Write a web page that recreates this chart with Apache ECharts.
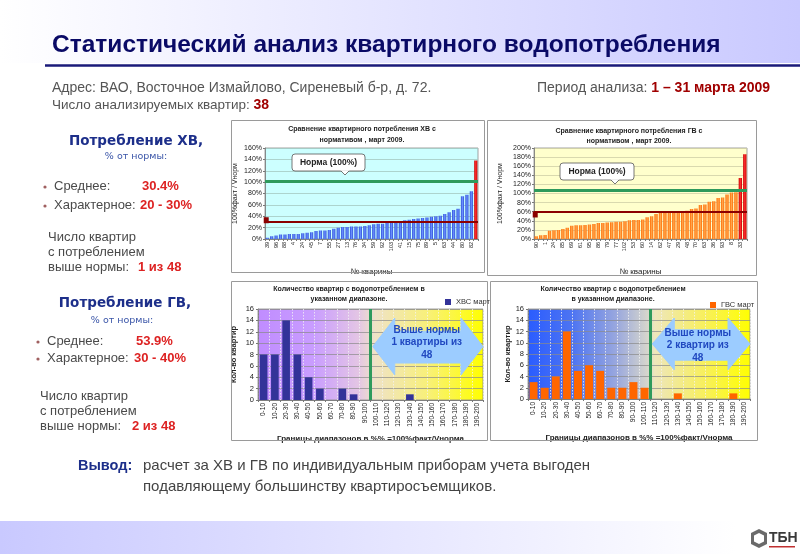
<!DOCTYPE html>
<html>
<head>
<meta charset="utf-8">
<script src="https://cdn.jsdelivr.net/npm/echarts@6.0.0/dist/echarts.min.js"></script>
<style>
html,body{margin:0;padding:0;background:#ffffff;}
#chart{width:800px;height:554px;}
</style>
</head>
<body>
<div id="chart"></div>
<script>
// ---------------- data ----------------
const hvApartments = ['39','21','96','50','88','31','4','12','24','66','45','18','7','99','55','3','27','70','13','58','76','9','34','81',
                      '59','26','92','47','103','11','41','67','15','38','75','2','89','53','5','94','63','30','44','85','80','17','82','61'];
const hvValues = [2,5,6,8,8,9,9,9, 10,11,12,14,15,15,16,18, 20,21,21,22,22,22,23,24,26,27,27,28,28,29,
                  31,33,34,35,36,37,38,39, 40,41,44,47, 51,53, 75,78, 84, 138];
const gvApartments = ['90','12','1','41','24','66','85','5','69','17','61','99','95','27','86','38','79','44','77','58','102','71','53','20',
                      '60','9','14','81','62','35','47','50','29','88','48','11','70','74','63','46','36','59','93','3','8','92','33','15'];
const gvValues = [6,8,9, 18,19, 20,22,25,29, 30,30,31,32,33,35,35,36,37,38,38,39,
                  41,42,42,43,48, 50,55,57,58,58,59, 60,61,62,66,67, 75,76, 82,83, 90,91,98, 102,103, 134, 186];
const rangeLabels = ['0-10','10-20','20-30','30-40','40-50','50-60','60-70','70-80','80-90','90-100',
                     '100-110','110-120','120-130','130-140','140-150','150-160','160-170','170-180','180-190','190-200'];
const hvCounts = [8,8,14,8,4,2,0,2,1,0,0,0,0,1,0,0,0,0,0,0];
const gvCounts = [3,2,4,12,5,6,5,2,2,3,2,0,0,1,0,0,0,0,1,0];
const hvNormLine = 101, hvAvgLine = 31, hvAvgMarker = 33;
const gvNormLine = 108, gvAvgLine = 60, gvAvgMarker = 53.9;
const hvNormBoundary = 100, gvNormBoundary = 110;
const hvStats = {mean: '30.4%', typical: '20 - 30%', above: '1 из 48'};
const gvStats = {mean: '53.9%', typical: '30 - 40%', above: '2 из 48'};

// ---------------- style ----------------
const FONT = '"Liberation Sans", Arial, sans-serif';
const VFONT = '"DejaVu Sans", Verdana, sans-serif';
const G = echarts.graphic;
const lg = (stops) => new G.LinearGradient(0, 0, 1, 0, stops.map(s => ({offset: s[0], color: s[1]})));
const blueBar = lg([[0,'#2c52d6'],[0.5,'#6b8dff'],[1,'#2c52d6']]);
const orangeBar = lg([[0,'#ff6a00'],[0.5,'#ffa64d'],[1,'#ff6a00']]);
const redBar = lg([[0,'#c80000'],[0.5,'#ff3030'],[1,'#c80000']]);

const chart = echarts.init(document.getElementById('chart'));

const smallAxisText = {fontFamily: FONT, color: '#222'};
function compareXAxis(grid, data) {
  return {type:'category', gridIndex:grid, data:data,
    axisLabel:Object.assign({rotate:90, fontSize:5.5, interval:1, margin:3}, smallAxisText),
    axisTick:{show:true, length:2, interval:0, lineStyle:{color:'#777'}},
    axisLine:{lineStyle:{color:'#777', width:0.8}},
    name:'№ кварины', nameLocation:'middle', nameGap:29,
    nameTextStyle:Object.assign({fontSize:8}, smallAxisText)};
}
function compareYAxis(grid, max, gap, gridColor) {
  return {type:'value', gridIndex:grid, min:0, max:max, interval:20,
    axisLabel:Object.assign({formatter:'{value}%', fontSize:7, margin:3}, smallAxisText),
    axisLine:{show:true, lineStyle:{color:'#777', width:0.8}},
    axisTick:{show:true, length:2, lineStyle:{color:'#777'}},
    splitLine:{lineStyle:{color:gridColor, width:0.8}},
    name:'100%факт / Vнорм', nameLocation:'middle', nameGap:gap,
    nameTextStyle:Object.assign({fontSize:7}, smallAxisText)};
}
function histXAxis(grid) {
  return {type:'category', gridIndex:grid, data:rangeLabels,
    axisLabel:Object.assign({rotate:90, fontSize:6.5, interval:0, margin:3}, smallAxisText),
    axisTick:{show:true, length:2, interval:0, lineStyle:{color:'#777'}},
    axisLine:{lineStyle:{color:'#777', width:0.8}},
    splitLine:{show:true, interval:0, lineStyle:{color:'#f2f2f2', width:0.8, type:[1.5,1.5]}},
    name:'Границы диапазонов в %% =100%факт/Vнорма', nameLocation:'middle', nameGap:35,
    nameTextStyle:Object.assign({fontSize:8, fontWeight:'bold'}, smallAxisText)};
}
function histYAxis(grid, gap) {
  return {type:'value', gridIndex:grid, min:0, max:16, interval:2,
    axisLabel:Object.assign({fontSize:7.5, margin:4}, smallAxisText),
    axisLine:{show:true, lineStyle:{color:'#777', width:0.8}},
    axisTick:{show:true, length:2, lineStyle:{color:'#777'}},
    splitLine:{lineStyle:{color:'#8a8a8a', width:0.7}},
    name:'Кол-во квартир', nameLocation:'middle', nameGap:gap,
    nameTextStyle:Object.assign({fontSize:7.5, fontWeight:'bold'}, smallAxisText)};
}

const grad3 = lg([[0,'#c08cff'],[0.25,'#c99dff'],[0.45,'#e4c6e4'],[0.52,'#efe2c6'],[0.75,'#f8f07a'],[1,'#ffff00']]);
const grad4 = lg([[0,'#2a5cff'],[0.2,'#4d74f2'],[0.4,'#9aa8de'],[0.54,'#d6d6cc'],[0.57,'#eee6bc'],[0.8,'#f8f05a'],[1,'#ffff00']]);

const option = {
  animation: false,
  textStyle: {fontFamily: FONT},
  grid: [
    {left:265, top:148, width:213, height:91, show:true, backgroundColor:'#ccffff', borderColor:'#8a8a8a', borderWidth:0.8, outerBoundsMode:'none'},
    {left:534, top:148, width:213, height:91, show:true, backgroundColor:'#ffffcc', borderColor:'#8a8a8a', borderWidth:0.8, outerBoundsMode:'none'},
    {left:258, top:309, width:225, height:91, show:true, backgroundColor:grad3, borderColor:'#8a8a8a', borderWidth:0.8, outerBoundsMode:'none'},
    {left:528, top:309, width:222, height:90, show:true, backgroundColor:grad4, borderColor:'#8a8a8a', borderWidth:0.8, outerBoundsMode:'none'}
  ],
  legend: [
    {data:['ХВС март'], left:445, top:298, itemWidth:6, itemHeight:6, icon:'rect', padding:0,
     textStyle:{fontSize:7.5, color:'#333', fontFamily:FONT}},
    {data:['ГВС март'], left:710, top:301, itemWidth:6, itemHeight:6, icon:'rect', padding:0,
     textStyle:{fontSize:7.5, color:'#333', fontFamily:FONT}}
  ],
  xAxis: [
    compareXAxis(0, hvApartments),
    compareXAxis(1, gvApartments),
    histXAxis(2),
    histXAxis(3),
    {type:'value', gridIndex:2, min:0, max:200, show:false},
    {type:'value', gridIndex:3, min:0, max:200, show:false}
  ],
  yAxis: [
    compareYAxis(0, 160, 26, '#a3c9c2'),
    compareYAxis(1, 200, 30, '#cfcfa6'),
    histYAxis(2, 20),
    histYAxis(3, 14)
  ],
  series: [
    {type:'bar', xAxisIndex:0, yAxisIndex:0, barCategoryGap:'28%',
     data: hvValues.map(v => ({value:v, itemStyle:{color: v > hvNormLine ? redBar : blueBar}})),
     markLine:{silent:true, symbol:['none','none'], label:{show:false},
       data:[{yAxis:hvNormLine, lineStyle:{color:'#2e9a5c', width:3, type:'solid'}},
             {yAxis:hvAvgLine, lineStyle:{color:'#8b0000', width:1.8, type:'solid'}}]},
     markPoint:{silent:true, symbol:'rect', symbolSize:[5,6], symbolOffset:[-1,0], label:{show:false},
       itemStyle:{color:'#8b0000'}, data:[{coord:[hvApartments[0], hvAvgMarker]}]}},
    {type:'bar', xAxisIndex:1, yAxisIndex:1, barCategoryGap:'25%',
     data: gvValues.map(v => ({value:v, itemStyle:{color: v > gvNormLine ? redBar : orangeBar}})),
     markLine:{silent:true, symbol:['none','none'], label:{show:false},
       data:[{yAxis:gvNormLine, lineStyle:{color:'#2e9a5c', width:3, type:'solid'}},
             {yAxis:gvAvgLine, lineStyle:{color:'#8b0000', width:1.8, type:'solid'}}]},
     markPoint:{silent:true, symbol:'rect', symbolSize:[5,6], symbolOffset:[-1,0], label:{show:false},
       itemStyle:{color:'#8b0000'}, data:[{coord:[gvApartments[0], gvAvgMarker]}]}},
    {name:'ХВС март', type:'bar', xAxisIndex:2, yAxisIndex:2, data:hvCounts, barCategoryGap:'32%',
     itemStyle:{color:'#333399'}},
    {name:'ГВС март', type:'bar', xAxisIndex:3, yAxisIndex:3, data:gvCounts, barCategoryGap:'28%',
     itemStyle:{color:'#ff6600'}},
    {type:'line', xAxisIndex:4, yAxisIndex:2, data:[[hvNormBoundary, 0]], showSymbol:false, symbol:'none',
     lineStyle:{opacity:0}, silent:true,
     markLine:{silent:true, symbol:['none','none'], label:{show:false},
       lineStyle:{color:'#2e9a5c', width:3, type:'solid'}, data:[{xAxis:hvNormBoundary}]}},
    {type:'line', xAxisIndex:5, yAxisIndex:3, data:[[gvNormBoundary, 0]], showSymbol:false, symbol:'none',
     lineStyle:{opacity:0}, silent:true,
     markLine:{silent:true, symbol:['none','none'], label:{show:false},
       lineStyle:{color:'#2e9a5c', width:3, type:'solid'}, data:[{xAxis:gvNormBoundary}]}}
  ]
};
chart.setOption(option);

// ---------------- annotations / slide text ----------------
function T(x, y, text, o) {
  const st = Object.assign({text:text, fill:'#333', fontFamily:FONT, fontSize:13,
    textAlign:'left', align:'left', textVerticalAlign:'middle', verticalAlign:'middle'}, o || {});
  if (o && o.textAlign) st.align = o.textAlign;
  return {type:'text', x:x, y:y, z:100, silent:true, style:st};
}
const px = (ax, v) => chart.convertToPixel({xAxisIndex: ax}, v);
const py = (ax, v) => chart.convertToPixel({yAxisIndex: ax}, v);

function arrow(xAx, yAx, a) {
  const x0 = px(xAx, a.from), x1 = px(xAx, a.to);
  const ht = py(yAx, a.headTop), hb = py(yAx, a.headBottom);
  const bt = py(yAx, a.bodyTop), bb = py(yAx, a.bodyBottom);
  const ym = (ht + hb) / 2, h = 22;
  return {type:'polygon', z:90, silent:true,
    shape:{points:[[x0,ym],[x0+h,ht],[x0+h,bt],[x1-h,bt],[x1-h,ht],[x1,ym],[x1-h,hb],[x1-h,bb],[x0+h,bb],[x0+h,hb]]},
    style:{fill:'#9cccff', stroke:'#9cccff'}};
}
const hvArrow = {from:102, to:200, headTop:14.4, headBottom:4.4, bodyTop:12.1, bodyBottom:6.5, textX:150, textY:10.1};
const gvArrow = {from:112, to:200, headTop:14.4, headBottom:5.2, bodyTop:12.3, bodyBottom:6.9, textX:153, textY:9.5};

function callout(x, y, w, h, tipX) {
  return [
    {type:'rect', z:95, silent:true, shape:{x:x, y:y, width:w, height:h, r:3},
     style:{fill:'#ffffff', stroke:'#555', lineWidth:0.8}},
    {type:'polygon', z:96, silent:true, shape:{points:[[tipX-4,y+h-0.5],[tipX,y+h+4],[tipX+4,y+h-0.5]]},
     style:{fill:'#ffffff', stroke:'#ffffff', lineWidth:0.5}},
    {type:'polyline', z:97, silent:true, shape:{points:[[tipX-4,y+h],[tipX,y+h+4],[tipX+4,y+h]]},
     style:{stroke:'#555', lineWidth:0.8, fill:null}},
    T(x + w/2, y + h/2, 'Норма (100%)', {fontSize:8.5, fontWeight:'bold', fill:'#222', textAlign:'center'})
  ];
}

const red = '#dd2222', navy = '#1d2f8a', gray = '#4a4a4a';
const graphics = [
  // top band
  {type:'rect', z:-5, silent:true, shape:{x:0, y:0, width:800, height:63},
   style:{fill:lg([[0,'#ffffff'],[1,'#c9c9ff']])}},
  {type:'line', z:1, silent:true, shape:{x1:45, y1:65.5, x2:800, y2:65.5}, style:{stroke:'#1a1a7a', lineWidth:2.5}},
  // bottom band
  {type:'rect', z:-5, silent:true, shape:{x:0, y:521, width:800, height:33},
   style:{fill:lg([[0,'#c9c9ff'],[0.92,'#ffffff'],[1,'#ffffff']])}},
  // chart frames
  {type:'rect', z:1, silent:true, shape:{x:231.5, y:120.5, width:253, height:152}, style:{fill:null, stroke:'#9a9a9a', lineWidth:1}},
  {type:'rect', z:1, silent:true, shape:{x:487.5, y:120.5, width:269, height:155}, style:{fill:null, stroke:'#9a9a9a', lineWidth:1}},
  {type:'rect', z:1, silent:true, shape:{x:231.5, y:281.5, width:256, height:159}, style:{fill:null, stroke:'#9a9a9a', lineWidth:1}},
  {type:'rect', z:1, silent:true, shape:{x:490.5, y:281.5, width:267, height:159}, style:{fill:null, stroke:'#9a9a9a', lineWidth:1}},
  // title
  T(52, 45, 'Статистический анализ квартирного водопотребления', {fontSize:24.5, fontWeight:'bold', fill:'#0a0a66'}),
  T(52, 88, 'Адрес: ВАО, Восточное Измайлово, Сиреневый б-р, д. 72.', {fontSize:14, fill:'#555'}),
  T(537, 88, '{g|Период анализа: }{r|1 – 31 марта 2009}', {rich:{g:{fill:'#555', fontSize:14, fontFamily:FONT},
     r:{fill:'#a00000', fontSize:14, fontWeight:'bold', fontFamily:FONT}}}),
  T(52, 105, '{g|Число анализируемых квартир: }{r|38}', {rich:{g:{fill:'#555', fontSize:13.5, fontFamily:FONT},
     r:{fill:'#a00000', fontSize:14, fontWeight:'bold', fontFamily:FONT}}}),
  // left panel HV
  T(136, 141, 'Потребление ХВ,', {fontFamily:VFONT, fontSize:13.5, fontWeight:'bold', fill:navy, textAlign:'center'}),
  T(136, 157, '% от нормы:', {fontFamily:VFONT, fontSize:9.5, fill:'#3a55a8', textAlign:'center'}),
  {type:'circle', z:100, silent:true, shape:{cx:45, cy:187, r:1.6}, style:{fill:'#a06060'}},
  {type:'circle', z:100, silent:true, shape:{cx:45, cy:206, r:1.6}, style:{fill:'#a06060'}},
  T(54, 186, 'Среднее:', {fill:gray}),
  T(142, 186, hvStats.mean, {fill:red, fontWeight:'bold'}),
  T(54, 205, 'Характерное:', {fill:gray}),
  T(140, 205, hvStats.typical, {fill:red, fontWeight:'bold'}),
  T(48, 237, 'Число квартир', {fill:gray}),
  T(48, 252, 'с потреблением', {fill:gray}),
  T(48, 267, 'выше нормы:', {fill:gray}),
  T(138, 267, hvStats.above, {fill:red, fontWeight:'bold'}),
  // left panel GV
  T(125, 303, 'Потребление ГВ,', {fontFamily:VFONT, fontSize:13.5, fontWeight:'bold', fill:navy, textAlign:'center'}),
  T(122, 321, '% от нормы:', {fontFamily:VFONT, fontSize:9.5, fill:'#3a55a8', textAlign:'center'}),
  {type:'circle', z:100, silent:true, shape:{cx:38, cy:342, r:1.6}, style:{fill:'#a06060'}},
  {type:'circle', z:100, silent:true, shape:{cx:38, cy:359, r:1.6}, style:{fill:'#a06060'}},
  T(47, 341, 'Среднее:', {fill:gray}),
  T(136, 341, gvStats.mean, {fill:red, fontWeight:'bold'}),
  T(47, 358, 'Характерное:', {fill:gray}),
  T(134, 358, gvStats.typical, {fill:red, fontWeight:'bold'}),
  T(40, 396, 'Число квартир', {fill:gray}),
  T(40, 411, 'с потреблением', {fill:gray}),
  T(40, 426, 'выше нормы:', {fill:gray}),
  T(132, 426, gvStats.above, {fill:red, fontWeight:'bold'}),
  // conclusion
  T(78, 466, 'Вывод:', {fontSize:14.5, fontWeight:'bold', fill:navy}),
  T(143, 466, 'расчет за ХВ и ГВ по индивидуальным приборам учета выгоден', {fontSize:15, fill:'#444'}),
  T(143, 487, 'подавляющему большинству квартиросъемщиков.', {fontSize:15, fill:'#444'}),
  // chart titles
  T(362, 129, 'Сравнение квартирного потребления ХВ с', {fontSize:7, fontWeight:'bold', fill:'#222', textAlign:'center'}),
  T(362, 140, 'нормативом , март 2009.', {fontSize:7, fontWeight:'bold', fill:'#222', textAlign:'center'}),
  T(629, 131, 'Сравнение квартирного потребления ГВ с', {fontSize:7, fontWeight:'bold', fill:'#222', textAlign:'center'}),
  T(629, 141, 'нормативом , март 2009.', {fontSize:7, fontWeight:'bold', fill:'#222', textAlign:'center'}),
  T(349, 289, 'Количество квартир с водопотреблением в', {fontSize:7, fontWeight:'bold', fill:'#222', textAlign:'center'}),
  T(349, 299, 'указанном диапазоне.', {fontSize:7, fontWeight:'bold', fill:'#222', textAlign:'center'}),
  T(613, 289, 'Количество квартир с водопотреблением', {fontSize:7, fontWeight:'bold', fill:'#222', textAlign:'center'}),
  T(613, 299, 'в указанном диапазоне.', {fontSize:7, fontWeight:'bold', fill:'#222', textAlign:'center'}),
  // arrows
  arrow(4, 2, hvArrow),
  arrow(5, 3, gvArrow),
  T(px(4, hvArrow.textX), py(2, hvArrow.textY), 'Выше нормы\n1 квартиры из\n48',
    {fontSize:10, fontWeight:'bold', fill:'#2048c0', textAlign:'center', lineHeight:12.5}),
  T(px(5, gvArrow.textX), py(3, gvArrow.textY), 'Выше нормы\n2 квартир из\n48',
    {fontSize:10, fontWeight:'bold', fill:'#2048c0', textAlign:'center', lineHeight:12.5}),
  // logo
  {type:'polygon', z:100, silent:true, shape:{points:[[759,529],[767,533],[767,544],[759,548],[751,544],[751,533]]},
   style:{fill:'#6a6a6a'}},
  {type:'polygon', z:101, silent:true, shape:{points:[[759,533],[764,535.5],[764,541.5],[759,544],[754,541.5],[754,535.5]]},
   style:{fill:'#ffffff'}},
  T(769, 538, 'ТБН', {fontSize:14, fontWeight:'bold', fill:'#3a3a3a'}),
  {type:'rect', z:100, silent:true, shape:{x:769, y:546, width:26, height:1.5}, style:{fill:'#c03030'}}
];
callout(292, 154, 73, 17, 345).forEach(g => graphics.push(g));
callout(560, 163, 74, 17, 615).forEach(g => graphics.push(g));

chart.setOption({graphic: graphics});
</script>
</body>
</html>
